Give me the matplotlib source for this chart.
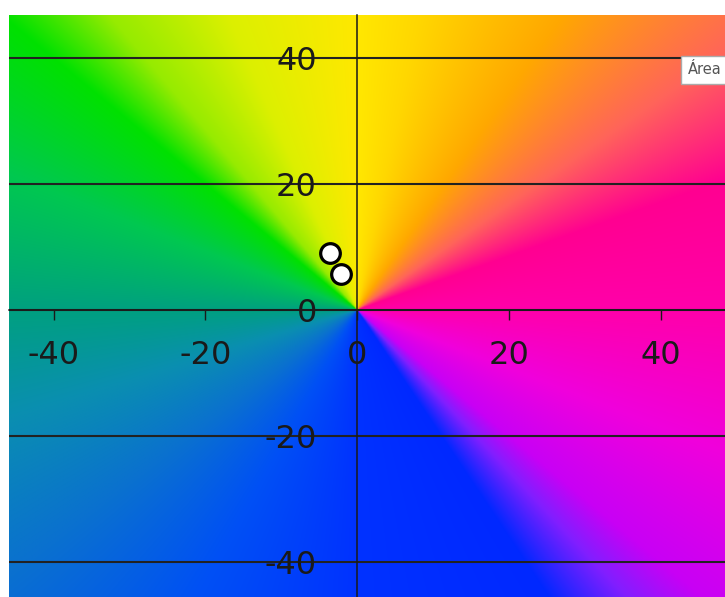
import numpy as np
import matplotlib
matplotlib.use('Agg')
import matplotlib.pyplot as plt

# colour wheel of the domain colouring: angle (deg) -> RGB
key_angles = [-180, -160, -137, -115, -90, -61, -52, -45, -25, 0, 23, 40, 60, 80, 90, 110, 125, 135, 155, 180]
key_r = [0, 10, 10, 0, 0, 0, 130, 200, 240, 255, 255, 255, 255, 255, 255, 220, 150, 0, 0, 0]
key_g = [160, 143, 112, 80, 50, 40, 30, 0, 0, 0, 0, 100, 168, 215, 232, 240, 235, 225, 200, 160]
key_b = [128, 176, 208, 245, 255, 255, 255, 245, 220, 170, 145, 90, 0, 0, 0, 0, 0, 0, 80, 128]

# draggable points
pts_x = [-3.6, -2.1]
pts_y = [9.0, 5.7]

ticks = [-40, -20, 0, 20, 40]
xlim = (-45.9, 48.5)
ylim = (-45.6, 46.8)

xs = np.linspace(xlim[0], xlim[1], 900)
ys = np.linspace(ylim[0], ylim[1], 750)
X, Y = np.meshgrid(xs, ys)
ang = np.degrees(np.arctan2(Y, X))
rgb = np.dstack([np.interp(ang, key_angles, key_r),
                 np.interp(ang, key_angles, key_g),
                 np.interp(ang, key_angles, key_b)]) / 255.0

fig = plt.figure(figsize=(7.25, 5.97), dpi=100)
ax = fig.add_axes([9 / 725, 0, 716 / 725, 582 / 597])
ax.imshow(rgb, origin='lower', extent=(xlim[0], xlim[1], ylim[0], ylim[1]),
          aspect='auto', interpolation='bilinear', zorder=0)
ax.set_xlim(*xlim)
ax.set_ylim(*ylim)

for s in ['top', 'right']:
    ax.spines[s].set_visible(False)
for s in ['left', 'bottom']:
    ax.spines[s].set_position('zero')
    ax.spines[s].set_color('#1a1a1a')
    ax.spines[s].set_linewidth(1.1)

ax.set_xticks(ticks)
ax.set_yticks(ticks)
ax.set_xticklabels([str(t) for t in ticks])
ax.set_yticklabels([str(t) for t in ticks])
ax.tick_params(axis='x', direction='out', length=7, width=1, pad=15,
               labelsize=23, colors='#1a1a1a')
ax.tick_params(axis='y', length=0, pad=29, labelsize=23, colors='#1a1a1a')
ax.yaxis.grid(True, color='#222222', linewidth=1.5)
ax.xaxis.grid(False)

ax.scatter(pts_x, pts_y, s=200, facecolor='white', edgecolor='black',
           linewidth=2.3, zorder=5)

fig.text(688 / 725, 1 - 70 / 597, 'Área', fontsize=10.5, color='#555555',
         va='center', ha='left',
         bbox=dict(boxstyle='square,pad=0.45', facecolor='white', edgecolor='#aaaaaa'))

fig.savefig('out.png', dpi=100)
